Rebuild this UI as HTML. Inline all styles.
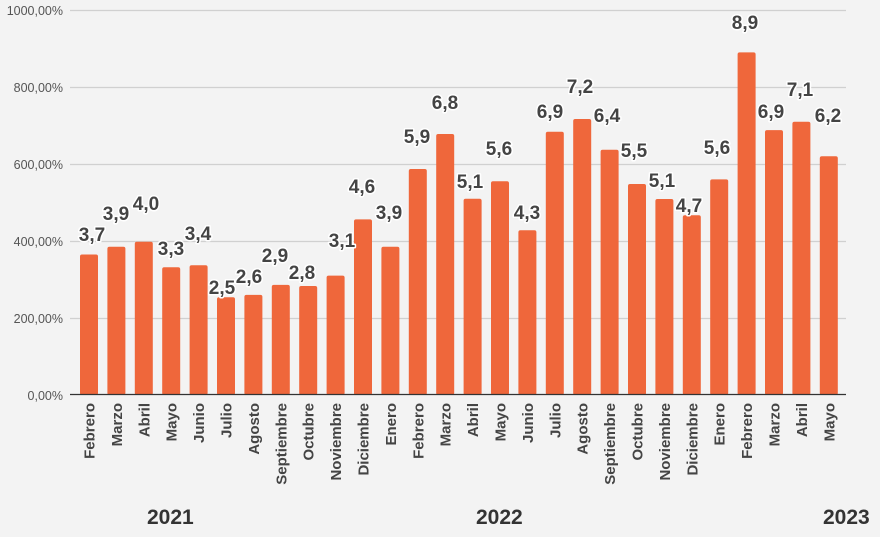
<!DOCTYPE html>
<html><head><meta charset="utf-8"><style>
html,body{margin:0;padding:0;background:#f3f3f3;}
svg{display:block;font-family:"Liberation Sans",sans-serif;}
.yl{font-size:12.5px;fill:#555;text-anchor:end;}
.m{font-size:15px;font-weight:bold;fill:#444;text-anchor:end;}
.v{font-size:19px;font-weight:bold;fill:#444;text-anchor:middle;stroke:#fff;stroke-width:3px;paint-order:stroke;stroke-linejoin:round;}
.yr{font-size:21px;font-weight:bold;fill:#333;}
</style></head><body>
<svg width="880" height="537" viewBox="0 0 880 537">
<rect width="880" height="537" fill="#f3f3f3"/>
<g stroke="#d0d0d0" stroke-width="1.2">
<line x1="70" x2="846" y1="10.5" y2="10.5"/>
<line x1="70" x2="846" y1="87.5" y2="87.5"/>
<line x1="70" x2="846" y1="164.5" y2="164.5"/>
<line x1="70" x2="846" y1="241.5" y2="241.5"/>
<line x1="70" x2="846" y1="318.5" y2="318.5"/>
</g>
<g class="yl">
<text x="63" y="15">1000,00%</text>
<text x="63" y="92">800,00%</text>
<text x="63" y="169">600,00%</text>
<text x="63" y="246">400,00%</text>
<text x="63" y="323">200,00%</text>
<text x="63" y="400">0,00%</text>
</g>
<g fill="#ef673b">
<rect x="80" y="254.5" width="18" height="140.5" rx="2"/>
<rect x="107.4" y="246.8" width="18" height="148.2" rx="2"/>
<rect x="134.8" y="241.8" width="18" height="153.2" rx="2"/>
<rect x="162.2" y="267.2" width="18" height="127.8" rx="2"/>
<rect x="189.6" y="265.3" width="18" height="129.7" rx="2"/>
<rect x="217" y="297.2" width="18" height="97.8" rx="2"/>
<rect x="244.4" y="294.9" width="18" height="100.1" rx="2"/>
<rect x="271.8" y="284.9" width="18" height="110.1" rx="2"/>
<rect x="299.2" y="286" width="18" height="109" rx="2"/>
<rect x="326.6" y="275.6" width="18" height="119.4" rx="2"/>
<rect x="354" y="219.4" width="18" height="175.6" rx="2"/>
<rect x="381.4" y="246.8" width="18" height="148.2" rx="2"/>
<rect x="408.8" y="169" width="18" height="226" rx="2"/>
<rect x="436.2" y="134" width="18" height="261" rx="2"/>
<rect x="463.6" y="198.7" width="18" height="196.3" rx="2"/>
<rect x="491" y="181.3" width="18" height="213.7" rx="2"/>
<rect x="518.4" y="230.2" width="18" height="164.8" rx="2"/>
<rect x="545.8" y="131.7" width="18" height="263.3" rx="2"/>
<rect x="573.2" y="119" width="18" height="276" rx="2"/>
<rect x="600.6" y="149.8" width="18" height="245.2" rx="2"/>
<rect x="628" y="184" width="18" height="211" rx="2"/>
<rect x="655.4" y="199" width="18" height="196" rx="2"/>
<rect x="682.8" y="215.2" width="18" height="179.8" rx="2"/>
<rect x="710.2" y="179.4" width="18" height="215.6" rx="2"/>
<rect x="737.6" y="52.4" width="18" height="342.6" rx="2"/>
<rect x="765" y="130.1" width="18" height="264.9" rx="2"/>
<rect x="792.4" y="121.7" width="18" height="273.3" rx="2"/>
<rect x="819.8" y="156.3" width="18" height="238.7" rx="2"/>
</g>
<line x1="70" x2="846" y1="394.5" y2="394.5" stroke="#333" stroke-width="1.3"/>
<g class="v">
<text x="92" y="241">3,7</text>
<text x="116" y="220">3,9</text>
<text x="146" y="210">4,0</text>
<text x="171" y="255">3,3</text>
<text x="198" y="240">3,4</text>
<text x="222" y="294">2,5</text>
<text x="249" y="283">2,6</text>
<text x="275" y="262">2,9</text>
<text x="302" y="279">2,8</text>
<text x="342" y="247">3,1</text>
<text x="362" y="193">4,6</text>
<text x="389" y="219">3,9</text>
<text x="417" y="143">5,9</text>
<text x="445" y="109">6,8</text>
<text x="470" y="188">5,1</text>
<text x="499" y="155">5,6</text>
<text x="527" y="219">4,3</text>
<text x="550" y="118">6,9</text>
<text x="580" y="93">7,2</text>
<text x="607" y="122">6,4</text>
<text x="634" y="157">5,5</text>
<text x="662" y="187">5,1</text>
<text x="689" y="212">4,7</text>
<text x="717" y="154">5,6</text>
<text x="745" y="29">8,9</text>
<text x="771" y="118">6,9</text>
<text x="800" y="96">7,1</text>
<text x="828" y="122">6,2</text>
</g>
<g class="m">
<text transform="translate(94.5,403) rotate(-90)">Febrero</text>
<text transform="translate(121.9,403) rotate(-90)">Marzo</text>
<text transform="translate(149.3,403) rotate(-90)">Abril</text>
<text transform="translate(176.7,403) rotate(-90)">Mayo</text>
<text transform="translate(204.1,403) rotate(-90)">Junio</text>
<text transform="translate(231.5,403) rotate(-90)">Julio</text>
<text transform="translate(258.9,403) rotate(-90)">Agosto</text>
<text transform="translate(286.3,403) rotate(-90)">Septiembre</text>
<text transform="translate(313.7,403) rotate(-90)">Octubre</text>
<text transform="translate(341.1,403) rotate(-90)">Noviembre</text>
<text transform="translate(368.5,403) rotate(-90)">Diciembre</text>
<text transform="translate(395.9,403) rotate(-90)">Enero</text>
<text transform="translate(423.3,403) rotate(-90)">Febrero</text>
<text transform="translate(450.7,403) rotate(-90)">Marzo</text>
<text transform="translate(478.1,403) rotate(-90)">Abril</text>
<text transform="translate(505.5,403) rotate(-90)">Mayo</text>
<text transform="translate(532.9,403) rotate(-90)">Junio</text>
<text transform="translate(560.3,403) rotate(-90)">Julio</text>
<text transform="translate(587.7,403) rotate(-90)">Agosto</text>
<text transform="translate(615.1,403) rotate(-90)">Septiembre</text>
<text transform="translate(642.5,403) rotate(-90)">Octubre</text>
<text transform="translate(669.9,403) rotate(-90)">Noviembre</text>
<text transform="translate(697.3,403) rotate(-90)">Diciembre</text>
<text transform="translate(724.7,403) rotate(-90)">Enero</text>
<text transform="translate(752.1,403) rotate(-90)">Febrero</text>
<text transform="translate(779.5,403) rotate(-90)">Marzo</text>
<text transform="translate(806.9,403) rotate(-90)">Abril</text>
<text transform="translate(834.3,403) rotate(-90)">Mayo</text>
</g>
<g class="yr">
<text x="147" y="524">2021</text>
<text x="476" y="524">2022</text>
<text x="823" y="524">2023</text>
</g>
</svg>
</body></html>
